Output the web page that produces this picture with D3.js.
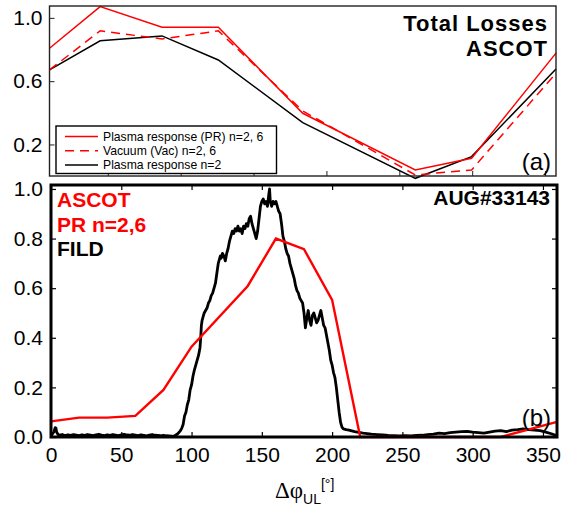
<!DOCTYPE html>
<html><head><meta charset="utf-8">
<script src="https://cdn.jsdelivr.net/npm/d3@7"></script>
<style>body{margin:0;background:#fff} svg{display:block}</style>
</head><body><svg id="c" width="569" height="510"></svg>
<script>
// ---------- data: panel (a) total losses (ASCOT) ----------
const topAngles = [0, 36, 80, 120, 180, 260, 300, 360];
const topPR     = [0.808, 1.071, 0.941, 0.941, 0.397, 0.039, 0.113, 0.777];
const topVac    = [0.671, 0.918, 0.867, 0.918, 0.412, 0.007, 0.039, 0.650];
const topPRn2   = [0.671, 0.855, 0.886, 0.734, 0.338, -0.014, 0.123, 0.677];
const legendLabels = ["Plasma response (PR) n=2, 6", "Vacuum (Vac) n=2, 6", "Plasma response n=2"];
const topYTicks = [0.2, 0.6, 1.0];
const topXTicks = [50, 100, 150, 200, 250, 300, 350];

// ---------- data: panel (b) ASCOT PR n=2,6 vs FILD ----------
const ascotAngles = [0, 20, 40, 60, 80, 100, 140, 160, 180, 200, 220, 240, 260, 280, 300, 320, 360];
const ascotValues = [0.063, 0.078, 0.078, 0.085, 0.19, 0.364, 0.609, 0.80, 0.757, 0.553, 0, 0, 0, 0, 0, 0, 0.061];
const fildTrace = [
 [0,0.006],[1,0.012],[2,0.02],[3,0.038],[3.5,0.036],[4,0.02],[5,0.01],[6,0.008],[8,0.01],[10,0.006],
 [12,0.009],[14,0.007],[16,0.01],[18,0.008],[20,0.006],[22,0.009],[24,0.007],[26,0.01],[28,0.008],[30,0.006],
 [32,0.009],[34,0.011],[36,0.008],[38,0.006],[40,0.009],[42,0.007],[44,0.01],[46,0.008],[48,0.006],[50,0.009],
 [52,0.011],[54,0.008],[56,0.007],[58,0.01],[60,0.008],[62,0.006],[64,0.009],[66,0.007],[68,0.005],[70,0.008],
 [72,0.01],[74,0.007],[76,0.006],[78,0.005],[80,0.007],[82,0.005],[84,0.004],[86,0.003],[88,0.005],[90,0.012],
 [92,0.025],[93,0.035],[94,0.05],[95,0.085],[96,0.10],[97,0.13],[98,0.15],[99,0.19],[100,0.21],[101,0.245],
 [102,0.27],[103,0.29],[104,0.31],[105,0.33],[106,0.36],[106.5,0.40],[107,0.45],[107.5,0.47],[108,0.48],[109,0.50],
 [110,0.51],[111,0.52],[112,0.54],[113,0.55],[114,0.57],[115,0.58],[116,0.60],[117,0.62],[117.5,0.64],[118,0.66],
 [119,0.70],[120,0.72],[120.5,0.73],[121,0.72],[122,0.74],[123,0.73],[124,0.71],[125,0.74],[126,0.76],[127,0.79],
 [128,0.81],[129,0.83],[130,0.82],[131,0.84],[132,0.83],[133,0.85],[134,0.83],[135,0.84],[136,0.82],[137,0.85],
 [138,0.84],[139,0.86],[140,0.85],[141,0.88],[142,0.89],[143,0.86],[144,0.84],[145,0.82],[146,0.80],[147,0.83],
 [148,0.88],[149,0.93],[150,0.95],[151,0.96],[152,0.94],[153,0.95],[154,0.93],[155,0.98],[155.5,1.0],[156,0.95],
 [157,0.93],[158,0.95],[159,0.94],[160,0.95],[161,0.93],[162,0.91],[163,0.90],[164,0.86],[165,0.81],[166,0.79],
 [167,0.76],[168,0.74],[169,0.73],[170,0.70],[171,0.68],[172,0.66],[173,0.64],[174,0.61],[175,0.59],[176,0.58],
 [177,0.56],[178,0.55],[179,0.54],[180,0.50],[181,0.44],[182,0.48],[183,0.51],[184,0.47],[185,0.45],[186,0.49],
 [187,0.50],[188,0.48],[189,0.46],[190,0.47],[191,0.49],[192,0.51],[193,0.48],[194,0.45],[195,0.44],[196,0.41],
 [197,0.38],[198,0.35],[199,0.31],[200,0.29],[201,0.26],[202,0.24],[203,0.20],[204,0.15],[205,0.10],[206,0.06],
 [207,0.04],[208,0.033],[210,0.03],[212,0.028],[214,0.025],[216,0.022],[218,0.02],[220,0.018],[222,0.016],[225,0.014],
 [228,0.012],[232,0.01],[236,0.008],[240,0.006],[244,0.005],[248,0.004],[252,0.005],[256,0.004],[260,0.006],[264,0.007],
 [268,0.01],[272,0.012],[276,0.016],[280,0.014],[284,0.018],[288,0.02],[292,0.022],[296,0.023],[300,0.02],[304,0.018],
 [308,0.016],[312,0.02],[316,0.024],[320,0.026],[324,0.022],[328,0.028],[332,0.03],[336,0.033],[340,0.03],[344,0.028],
 [348,0.026],[352,0.02],[356,0.013],[360,0.005]
];
const bottomXTicks = [0, 50, 100, 150, 200, 250, 300, 350];
const bottomYTicks = [0, 0.2, 0.4, 0.6, 0.8, 1.0];

const RED = "#ff0000";
const svg = d3.select("#c");
const SANS = "'Liberation Sans', Arial, Helvetica, sans-serif";

// ---------- panel (a) ----------
const A = {l: 49.5, r: 556, t: 6, b: 176};
const xA = d3.scaleLinear().domain([0, 360]).range([A.l, A.r]);
const xATicks = d3.scaleLinear().domain([10, 357.5]).range([A.l, A.r]);
const yA = d3.scaleLinear().domain([0, 1.075]).range([176.1, 6]);

const gA = svg.append("g");
const lineA = d3.line().x((d, i) => xA(topAngles[i])).y(d => yA(d));
gA.append("path").datum(topPRn2).attr("d", lineA).attr("fill", "none").attr("stroke", "#000").attr("stroke-width", 1.5);
gA.append("path").datum(topVac).attr("d", lineA).attr("fill", "none").attr("stroke", RED).attr("stroke-width", 1.5).attr("stroke-dasharray", "9,6");
gA.append("path").datum(topPR).attr("d", lineA).attr("fill", "none").attr("stroke", RED).attr("stroke-width", 1.5);

const axLA = gA.append("g").attr("transform", `translate(${A.l},0)`)
  .call(d3.axisLeft(yA).tickValues(topYTicks).tickSizeInner(-5).tickSizeOuter(0).tickPadding(7).tickFormat(d3.format(".1f")));
const axBA = gA.append("g").attr("transform", `translate(0,${A.b})`)
  .call(d3.axisBottom(xATicks).tickValues(topXTicks).tickSizeInner(-5).tickSizeOuter(0).tickFormat(""));
[axLA, axBA].forEach(g => {
  g.select(".domain").remove();
  g.selectAll("line").attr("stroke", "#222");
  g.selectAll("text").attr("font-family", SANS).attr("font-size", 21).attr("fill", "#000");
});
gA.append("rect").attr("x", A.l).attr("y", A.t).attr("width", A.r - A.l).attr("height", A.b - A.t)
  .attr("fill", "none").attr("stroke", "#222").attr("stroke-width", 1.4);

gA.append("text").attr("x", 548).attr("y", 30.5).attr("text-anchor", "end").attr("font-family", SANS)
  .attr("font-weight", "bold").attr("font-size", 22).attr("letter-spacing", 1).text("Total Losses");
gA.append("text").attr("x", 548).attr("y", 55.5).attr("text-anchor", "end").attr("font-family", SANS)
  .attr("font-weight", "bold").attr("font-size", 22).attr("letter-spacing", 1).text("ASCOT");
gA.append("text").attr("x", 551).attr("y", 170).attr("text-anchor", "end").attr("font-family", SANS)
  .attr("font-size", 24).text("(a)");

// legend
const leg = gA.append("g");
leg.append("rect").attr("x", 56).attr("y", 126).attr("width", 220.5).attr("height", 47.5)
  .attr("fill", "#fff").attr("stroke", "#000").attr("stroke-width", 1.4);
const legStyles = [
  {c: RED, dash: null}, {c: RED, dash: "9,6"}, {c: "#000", dash: null}
];
legendLabels.forEach((lab, i) => {
  const yy = 136.5 + i * 14.3;
  leg.append("line").attr("x1", 65).attr("x2", 98).attr("y1", yy).attr("y2", yy)
    .attr("stroke", legStyles[i].c).attr("stroke-width", 1.5).attr("stroke-dasharray", legStyles[i].dash);
  leg.append("text").attr("x", 103).attr("y", yy + 4.3).attr("font-family", SANS)
    .attr("font-size", 12.2).attr("fill", "#000").text(lab);
});

// ---------- panel (b) ----------
const B = {l: 51, r: 557, t: 185, b: 437};
const xB = d3.scaleLinear().domain([0, 360]).range([B.l, B.r]);
const yB = d3.scaleLinear().domain([0, 1.016]).range([B.b, B.t]);
const gB = svg.append("g");

gB.append("path").datum(fildTrace)
  .attr("d", d3.line().x(d => xB(d[0])).y(d => yB(d[1])))
  .attr("fill", "none").attr("stroke", "#000").attr("stroke-width", 2.8).attr("stroke-linejoin", "round");
gB.append("path").datum(ascotValues)
  .attr("d", d3.line().x((d, i) => xB(ascotAngles[i])).y(d => yB(d)))
  .attr("fill", "none").attr("stroke", RED).attr("stroke-width", 2.4);

const mk = (axis, tr, labels) => {
  const g = gB.append("g").attr("transform", tr).call(axis);
  g.select(".domain").remove();
  g.selectAll("line").attr("stroke", "#000").attr("stroke-width", 1.2);
  g.selectAll("text").attr("font-family", SANS).attr("font-size", 21).attr("fill", "#000");
  if (!labels) g.selectAll("text").remove();
  return g;
};
mk(d3.axisLeft(yB).tickValues(bottomYTicks).tickSizeInner(-5).tickSizeOuter(0).tickPadding(8).tickFormat(d3.format(".1f")), `translate(${B.l},0)`, true);
mk(d3.axisRight(yB).tickValues(bottomYTicks).tickSizeInner(-5).tickSizeOuter(0), `translate(${B.r},0)`, false);
mk(d3.axisBottom(xB).tickValues(bottomXTicks).tickSizeInner(-5).tickSizeOuter(0).tickPadding(10).tickFormat(d3.format("d")), `translate(0,${B.b})`, true);
mk(d3.axisTop(xB).tickValues(bottomXTicks).tickSizeInner(-5).tickSizeOuter(0), `translate(0,${B.t})`, false);

gB.append("rect").attr("x", B.l).attr("y", B.t).attr("width", B.r - B.l).attr("height", B.b - B.t)
  .attr("fill", "none").attr("stroke", "#000").attr("stroke-width", 3);

const lbl = (x, y, t, c, anchor, size, bold) => gB.append("text").attr("x", x).attr("y", y)
  .attr("text-anchor", anchor).attr("font-family", SANS).attr("font-size", size)
  .attr("font-weight", bold ? "bold" : "normal").attr("fill", c).text(t);
lbl(57, 207, "ASCOT", RED, "start", 21, true);
lbl(57, 232, "PR n=2,6", RED, "start", 21, true);
lbl(57, 256, "FILD", "#000", "start", 21, true);
lbl(550, 205, "AUG#33143", "#000", "end", 21, true);
lbl(551, 426, "(b)", "#000", "end", 24, false);

// x-axis title
const tt = svg.append("text").attr("x", 275).attr("y", 498).attr("fill", "#000");
tt.append("tspan").attr("font-family", "'Liberation Serif', 'Times New Roman', serif").attr("font-size", 23).text("Δφ");
tt.append("tspan").attr("font-family", SANS).attr("font-size", 14).attr("dy", 6).text("UL");
tt.append("tspan").attr("font-family", SANS).attr("font-size", 14).attr("dy", -15).text("[°]");
</script></body></html>
